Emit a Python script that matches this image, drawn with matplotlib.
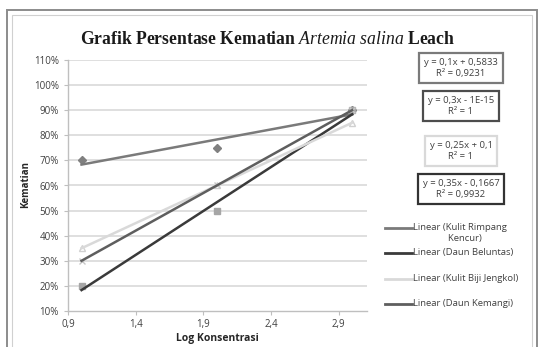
import numpy as np
import matplotlib
matplotlib.use("Agg")
import matplotlib.pyplot as plt
from matplotlib.patches import Rectangle
from matplotlib.lines import Line2D
from matplotlib.ticker import FuncFormatter

# data
log_konsentrasi = [1, 2, 3]
kencur = [0.70, 0.75, 0.90]
beluntas = [0.20, 0.50, 0.90]
jengkol = [0.35, 0.60, 0.85]
kemangi = [0.30, 0.60, 0.90]

x_ticks = [0.9, 1.4, 1.9, 2.4, 2.9]
y_ticks = [0.1, 0.2, 0.3, 0.4, 0.5, 0.6, 0.7, 0.8, 0.9, 1.0, 1.1]

equations = [
    ("y = 0,1x + 0,5833\nR² = 0,9231", "#7a7a7a"),
    ("y = 0,3x - 1E-15\nR² = 1", "#4d4d4d"),
    ("y = 0,25x + 0,1\nR² = 1", "#d9d9d9"),
    ("y = 0,35x - 0,1667\nR² = 0,9932", "#333333"),
]

plt.rcParams["mathtext.fontset"] = "custom"
plt.rcParams["mathtext.it"] = "Liberation Serif:italic"
plt.rcParams["mathtext.rm"] = "Liberation Serif:bold"
plt.rcParams["mathtext.bf"] = "Liberation Serif:bold"

W, H = 542, 347
fig = plt.figure(figsize=(W / 100, H / 100), dpi=100)
fig.patch.set_facecolor("white")


def px(x0, y0, x1, y1):
    return [x0 / W, 1 - y1 / H, (x1 - x0) / W, (y1 - y0) / H]


# chart frame (double border, cut off at the bottom)
fig.patches.append(Rectangle((7 / W, -0.1), 530 / W, 1 - 10 / H + 0.1,
                             transform=fig.transFigure, fill=False,
                             edgecolor="#8c8c8c", linewidth=1.4))
fig.patches.append(Rectangle((12 / W, -0.1), 520 / W, 1 - 15 / H + 0.1,
                             transform=fig.transFigure, fill=False,
                             edgecolor="#d0d0d0", linewidth=0.8))

ax = fig.add_axes(px(68, 60, 367, 311))
ax.set_xlim(0.9, 3.11)
ax.set_ylim(0.1, 1.1)

for yv in y_ticks[1:]:
    ax.axhline(yv, color="#d9d9d9", linewidth=1.2, zorder=0)

for s in ["top", "right"]:
    ax.spines[s].set_visible(False)
for s in ["left", "bottom"]:
    ax.spines[s].set_color("#bfbfbf")
    ax.spines[s].set_linewidth(1.0)

ax.set_xticks(x_ticks)
ax.set_yticks(y_ticks)
ax.xaxis.set_major_formatter(FuncFormatter(lambda v, p: f"{v:.1f}".replace(".", ",")))
ax.yaxis.set_major_formatter(FuncFormatter(lambda v, p: f"{v * 100:.0f}%"))
ax.tick_params(axis="both", colors="#bfbfbf", labelcolor="#404040",
               labelsize=7, length=3, width=0.8)
ax.tick_params(axis="x", pad=3)
for lbl in ax.get_xticklabels() + ax.get_yticklabels():
    lbl.set_family("Open Sans")

xs = np.array(log_konsentrasi, dtype=float)

series = [
    (kencur, "D", "#808080", "#808080", 4.5, "#7a7a7a"),
    (beluntas, "s", "#a6a6a6", "#a6a6a6", 5, "#3a3a3a"),
    (jengkol, "^", "none", "#d0d0d0", 5, "#d9d9d9"),
    (kemangi, "x", "#c8c8c8", "#c8c8c8", 5, "#5e5e5e"),
]

for ys, mk, fc, ec, ms, lc in series:
    ax.plot(xs, ys, linestyle="none", marker=mk, markerfacecolor=fc,
            markeredgecolor=ec, markersize=ms, zorder=3)

for ys, mk, fc, ec, ms, lc in series:
    k, b = np.polyfit(xs, ys, 1)
    xl = np.array([xs[0], xs[-1]])
    ax.plot(xl, k * xl + b, color=lc, linewidth=1.8, zorder=4)

fig.text(268 / W, 1 - 40 / H,
         "Grafik Persentase Kematian $\\mathit{Artemia\\ salina}$ Leach",
         ha="center", va="center", fontsize=12.7, fontweight="bold",
         family="Liberation Serif", color="#1a1a1a")

fig.text(26 / W, 1 - 185 / H, "Kematian", rotation=90, ha="center", va="center",
         fontsize=7, fontweight="bold", family="Open Sans", color="#262626")
fig.text(217 / W, 1 - 338 / H, "Log Konsentrasi", ha="center", va="center",
         fontsize=7.5, fontweight="bold", family="Open Sans", color="#262626")

# trendline equation boxes
eq_y = [68, 106, 151, 189]
for (txt, col), yc in zip(equations, eq_y):
    fig.text(461 / W, 1 - yc / H, txt, ha="center", va="center",
             fontsize=6.8, family="Open Sans", color="#404040",
             linespacing=1.35,
             bbox=dict(boxstyle="square,pad=0.5", facecolor="white",
                       edgecolor=col, linewidth=1.6))

# legend for trendlines
legend_items = [
    ("Linear (Kulit Rimpang\n              Kencur)", "#7a7a7a", 228),
    ("Linear (Daun Beluntas)", "#3a3a3a", 253),
    ("Linear (Kulit Biji Jengkol)", "#d9d9d9", 279),
    ("Linear (Daun Kemangi)", "#5e5e5e", 304),
]
for label, col, yc in legend_items:
    fig.lines.append(Line2D([385 / W, 412 / W], [1 - yc / H, 1 - yc / H],
                            transform=fig.transFigure, color=col, linewidth=2))
    fig.text(413 / W, 1 - (yc - 5) / H, label, ha="left", va="top",
             fontsize=6.8, family="Open Sans", color="#404040", linespacing=1.25)

fig.savefig("out.png", dpi=100)
